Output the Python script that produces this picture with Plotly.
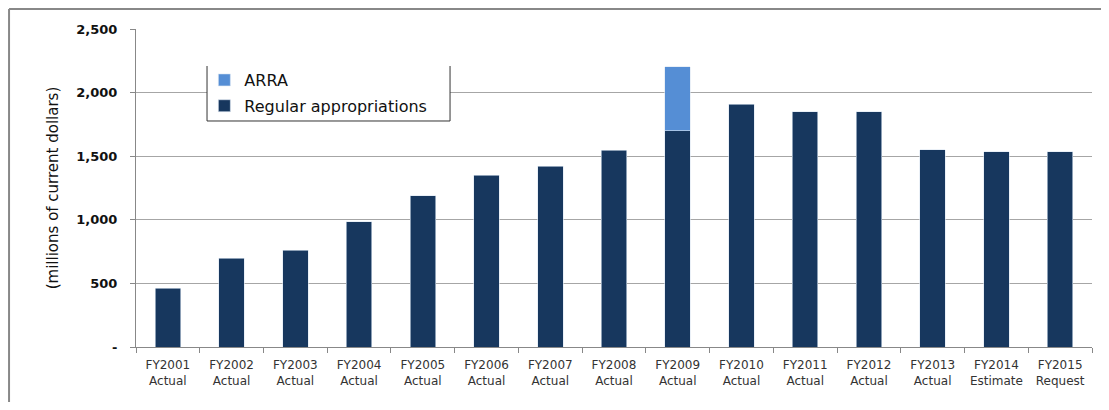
import plotly.graph_objects as go

fiscal_years = ["FY2001", "FY2002", "FY2003", "FY2004", "FY2005", "FY2006", "FY2007",
                "FY2008", "FY2009", "FY2010", "FY2011", "FY2012", "FY2013", "FY2014", "FY2015"]
statuses = ["Actual"] * 13 + ["Estimate", "Request"]
regular = [462, 697, 760, 985, 1190, 1350, 1420, 1545, 1700, 1910, 1850, 1850, 1550, 1535, 1535]
arra = [None, None, None, None, None, None, None, None, 503, None, None, None, None, None, None]
y_ticks = [0, 500, 1000, 1500, 2000, 2500]
y_tick_text = ["-", "500", "1,000", "1,500", "2,000", "2,500"]

labels = [f"{fy}<br>{st}" for fy, st in zip(fiscal_years, statuses)]

fig = go.Figure()
fig.add_trace(go.Bar(x=labels, y=regular, name="Regular appropriations", legendgroup="reg",
                     legendrank=2,
                     marker=dict(color="#17375E", line=dict(color="#DCE6F2", width=0.6))))
fig.add_trace(go.Bar(x=labels, y=arra, name="ARRA", legendgroup="arra", legendrank=1,
                     marker=dict(color="#558ED5", line=dict(color="#DCE6F2", width=0.6))))

grey = "#888888"
fig.update_layout(
    width=1093, height=394,
    margin=dict(l=128, r=9, t=21, b=55),
    paper_bgcolor="white", plot_bgcolor="white",
    barmode="stack", bargap=0.6,
    font=dict(family="DejaVu Sans, sans-serif", color="#222222"),
    showlegend=True,
    legend=dict(traceorder="grouped", x=0.0715, y=0.893, xanchor="left", yanchor="top",
                bgcolor="rgba(0,0,0,0)", font=dict(size=16, color="#111111"),
                tracegroupgap=2, itemwidth=30),
    xaxis=dict(type="category", showline=True, linecolor=grey, linewidth=1,
               ticks="outside", tickson="boundaries", ticklen=5, tickcolor=grey,
               ticklabelstandoff=7,
               tickfont=dict(size=12, color="#333333"), showgrid=False),
    yaxis=dict(range=[0, 2500], tickvals=y_ticks, ticktext=y_tick_text,
               showline=True, linecolor=grey, linewidth=1,
               ticks="outside", ticklen=5, tickcolor=grey, ticklabelstandoff=10,
               showgrid=True, gridcolor="#A6A6A6", gridwidth=1,
               tickfont=dict(size=13, color="#111111", weight="bold"),
               title=dict(text="(millions of current dollars)", font=dict(size=15, color="#111111"), standoff=14),
               zeroline=False),
    shapes=[
        # legend box background and three-sided border
        dict(type="rect", xref="paper", yref="paper", x0=0.0743, x1=0.3285, y0=0.7107, y1=0.8836,
             fillcolor="white", line=dict(width=0), layer="above"),
        dict(type="line", xref="paper", yref="paper", x0=0.0743, x1=0.0743, y0=0.7107, y1=0.8836,
             line=dict(color="#333333", width=1)),
        dict(type="line", xref="paper", yref="paper", x0=0.3285, x1=0.3285, y0=0.7107, y1=0.8836,
             line=dict(color="#333333", width=1)),
        dict(type="line", xref="paper", yref="paper", x0=0.0743, x1=0.3285, y0=0.7107, y1=0.7107,
             line=dict(color="#333333", width=1)),
        # outer frame (top and left edges visible)
        dict(type="line", xref="paper", yref="paper", x0=-0.1328, x1=1.05, y0=1.0629, y1=1.0629,
             line=dict(color=grey, width=2)),
        dict(type="line", xref="paper", yref="paper", x0=-0.1328, x1=-0.1328, y0=1.0629, y1=-0.25,
             line=dict(color=grey, width=2)),
    ],
)

fig.write_html("out.html")
